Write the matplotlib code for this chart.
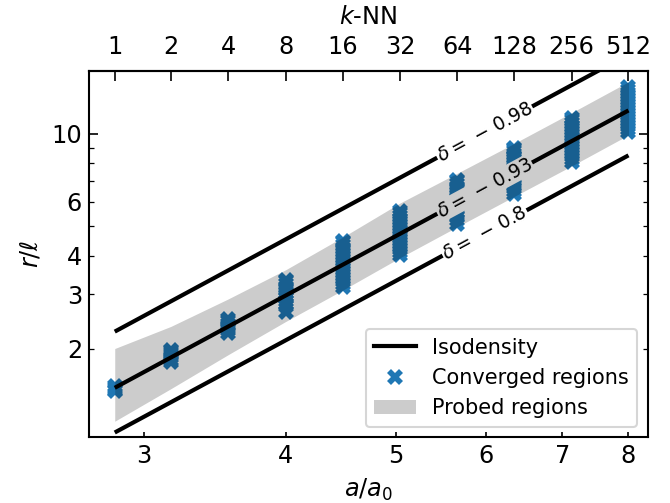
import numpy as np
import matplotlib.pyplot as plt
from matplotlib.lines import Line2D
from matplotlib.patches import Patch
from matplotlib.ticker import FixedLocator, FixedFormatter, NullLocator

# k-NN values and matching a/a0 positions
k_nn = [1, 2, 4, 8, 16, 32, 64, 128, 256, 512]
a_k = [2.83, 3.17, 3.56, 4.0, 4.49, 5.04, 5.66, 6.35, 7.13, 8.0]

# isodensity lines (straight in log-log, so two end points each)
line_a = [2.83, 8.0]
iso_098 = [2.27, 18.1]
iso_093 = [1.49, 11.9]
iso_080 = [1.066, 8.5]
delta_labels = [r'$\delta = \,-\, 0.98$', r'$\delta = \,-\, 0.93$', r'$\delta = \,-\, 0.8$']

# probed regions (band edges at each k)
band_lo = [1.16, 1.48, 1.91, 2.45, 3.10, 3.95, 4.98, 6.25, 7.85, 9.90]
band_hi = [2.00, 2.36, 2.90, 3.61, 4.61, 5.95, 7.44, 9.30, 11.7, 14.75]

# converged regions, one column of r/l values per k
conv_r = [
    [1.45, 1.47, 1.49, 1.51],
    [1.81, 1.84, 1.87, 1.90, 1.93, 1.96, 1.98],
    [2.25, 2.29, 2.33, 2.37, 2.41, 2.45, 2.49],
    [2.62, 2.74, 2.79, 2.85, 2.91, 2.97, 3.03, 3.10, 3.17, 3.24, 3.31, 3.35],
    [3.18, 3.25, 3.32, 3.40, 3.47, 3.55, 3.63, 3.71, 3.79, 3.88, 3.97, 4.06, 4.15, 4.24, 4.34, 4.44, 4.49],
    [4.04, 4.13, 4.22, 4.32, 4.42, 4.52, 4.62, 4.72, 4.83, 4.94, 5.05, 5.16, 5.28, 5.40, 5.51, 5.62],
    [5.10, 5.22, 5.34, 5.46, 5.58, 5.71, 5.84, 5.97, 6.11, 6.25, 6.39, 6.54, 6.69, 6.84, 6.99, 7.09],
    [6.38, 6.53, 6.68, 6.83, 6.99, 7.15, 7.31, 7.48, 7.65, 7.82, 8.00, 8.18, 8.37, 8.56, 8.76, 8.90, 9.00],
    [8.10, 8.28, 8.47, 8.66, 8.86, 9.06, 9.27, 9.48, 9.70, 9.92, 10.15, 10.38, 10.62, 10.86, 11.10, 11.27],
    [10.15, 10.38, 10.62, 10.86, 11.11, 11.36, 11.62, 11.88, 12.15, 12.43, 12.71, 13.0, 13.3, 13.6, 13.9, 14.2],
]

label_a = 5.98

plt.rcParams['axes.linewidth'] = 1.0

fig = plt.figure(figsize=(670 / 150, 503 / 150), dpi=150)
ax = fig.add_axes([0.133, 0.131, 0.834, 0.728])
ax.set_xscale('log')
ax.set_yscale('log')
ax.set_xlim(2.687, 8.32)
ax.set_ylim(1.03, 16.0)

# converged regions
for i in range(len(k_nn)):
    ax.plot([a_k[i]] * len(conv_r[i]), conv_r[i], 'x', color='#1f77b4',
            ms=6, mew=2.7, ls='none', zorder=2)

# lines
for r in [iso_098, iso_093, iso_080]:
    ax.plot(line_a, r, color='k', lw=2, zorder=2.5, solid_capstyle='butt')

# inline labels on the lines
for r, lab in zip([iso_098, iso_093, iso_080], delta_labels):
    r_lab = np.exp(np.interp(np.log(label_a), np.log(line_a), np.log(r)))
    p1 = ax.transData.transform((line_a[0], r[0]))
    p2 = ax.transData.transform((line_a[1], r[1]))
    ang = np.degrees(np.arctan2(p2[1] - p1[1], p2[0] - p1[0]))
    ax.text(label_a, r_lab, lab, fontsize=9, rotation=ang, rotation_mode='anchor',
            ha='center', va='center', zorder=3,
            bbox=dict(boxstyle='square,pad=0.05', fc='white', ec='none'))

# probed regions on top
ax.fill_between(a_k, band_lo, band_hi, color='k', alpha=0.2, lw=0, zorder=4)

# ticks
ax.xaxis.set_major_locator(FixedLocator([3, 4, 5, 6, 7, 8]))
ax.xaxis.set_major_formatter(FixedFormatter(['3', '4', '5', '6', '7', '8']))
ax.xaxis.set_minor_locator(NullLocator())
ax.yaxis.set_major_locator(FixedLocator([10]))
ax.yaxis.set_major_formatter(FixedFormatter(['10']))
ax.yaxis.set_minor_locator(FixedLocator([2, 3, 4, 5, 6, 7, 8, 9]))
ax.yaxis.set_minor_formatter(FixedFormatter(['2', '3', '4', '', '6', '', '', '']))
ax.tick_params(which='both', direction='in', right=True, top=False, labelsize=11.5)
ax.tick_params(axis='y', which='major', length=4.5)
ax.tick_params(axis='y', which='minor', length=2.5)
ax.tick_params(axis='x', which='major', length=2.5)

ax.set_xlabel('$a/a_0$', fontsize=11.5)
ax.set_ylabel(r'$r/\ell$', fontsize=11.5)

secax = ax.secondary_xaxis('top')
secax.set_xticks(a_k, labels=[str(k) for k in k_nn])
secax.xaxis.set_minor_locator(NullLocator())
secax.tick_params(direction='in', length=5, pad=5.5, labelsize=11.5)
secax.set_xlabel('$k$-NN', fontsize=11.5, labelpad=5.5)

handles = [Line2D([], [], color='k', lw=2),
           Line2D([], [], marker='x', color='#1f77b4', ms=6, mew=2.7, ls='none'),
           Patch(color='k', alpha=0.2, lw=0)]
ax.legend(handles, ['Isodensity', 'Converged regions', 'Probed regions'],
          loc='lower right', fontsize=10)

fig.savefig('out.png', dpi=150)
